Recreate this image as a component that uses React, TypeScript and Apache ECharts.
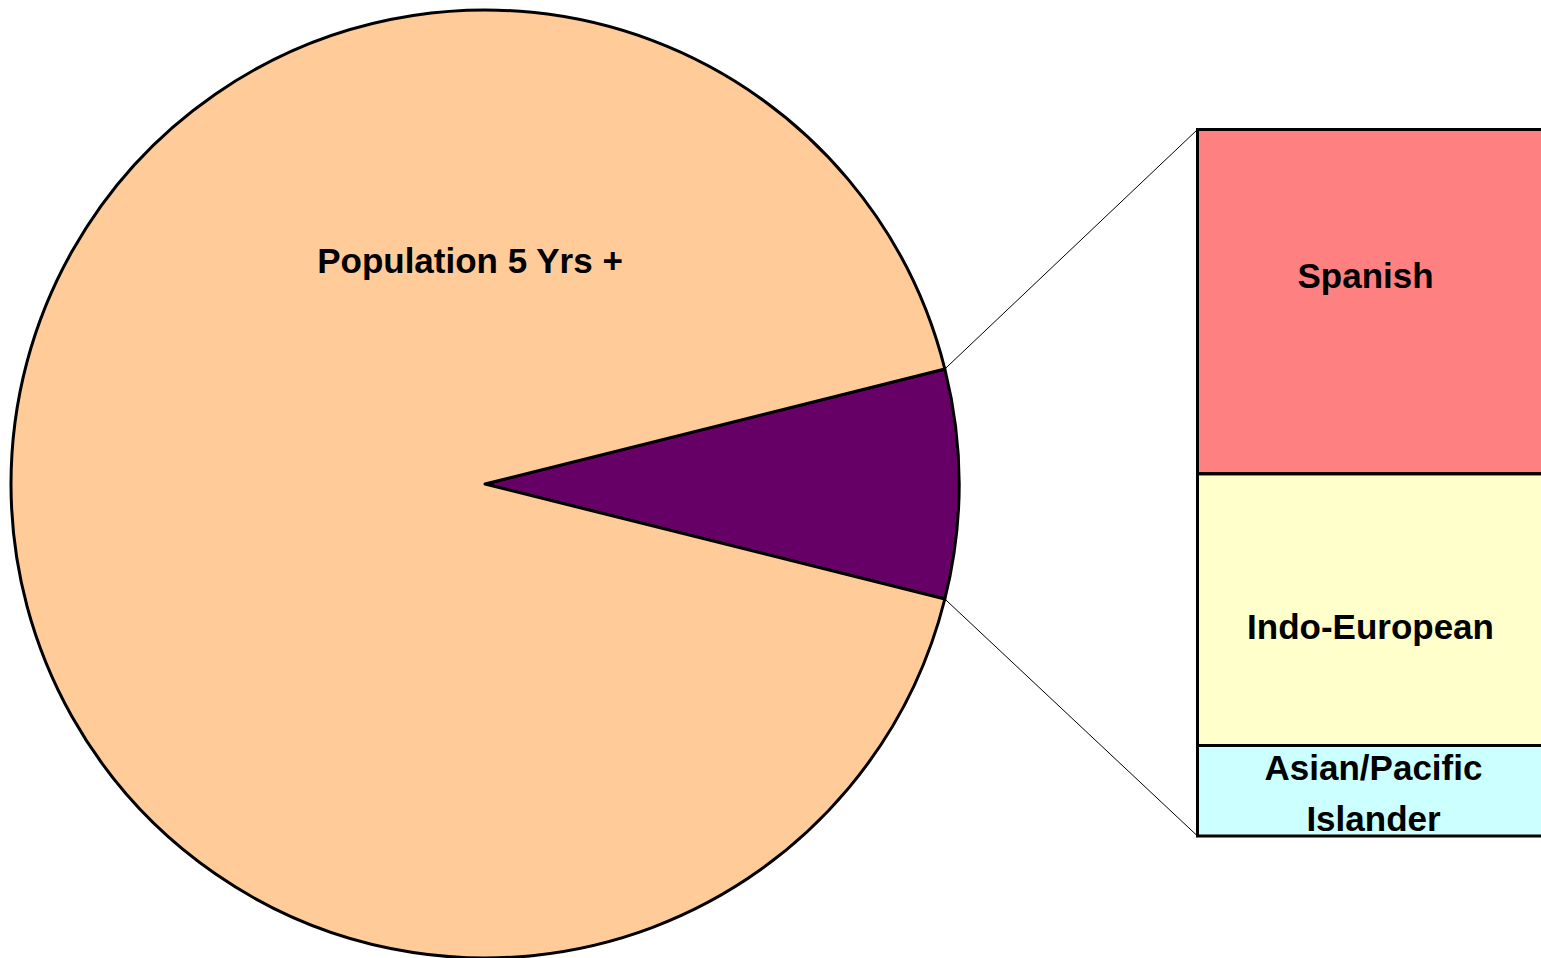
import React, { useEffect, useRef } from "react";
import * as echarts from "echarts";

// Pie: share of population 5 years and over (percent)
const pieCategories = ["Other Languages", "Population 5 Yrs +"];
const pieValues = [7.8, 92.2];
const pieColors = ["#660066", "#FFCC99"];

// Bar (breakdown of "Other Languages"), bottom to top
const barCategories = ["Asian/Pacific Islander", "Indo-European", "Spanish"];
const barValues = [1.0, 3.0, 3.8];
const barColors = ["#CCFFFF", "#FFFFCC", "#FF8080"];
const barLabelOffsets = [[1, 2], [-2, 17], [-7, -26]];

const FONT = "'Liberation Sans', Arial, sans-serif";

export default function App() {
  const ref = useRef<HTMLDivElement>(null);

  useEffect(() => {
    document.body.style.margin = "0";
    const chart = echarts.init(ref.current!, null, { renderer: "svg" });
    const cx = 485, cy = 484, r = 474;
    const total = pieValues.reduce((a, b) => a + b, 0);
    const half = (pieValues[0] / total) * 180;
    const barLeft = 1197.5, barTop = 129.5, barH = 706.5, barW = 350;
    const barTotal = barValues.reduce((a, b) => a + b, 0);

    const rad = (half * Math.PI) / 180;
    const pTop = [cx + r * Math.cos(rad), cy - r * Math.sin(rad)];
    const pBot = [cx + r * Math.cos(rad), cy + r * Math.sin(rad)];

    // cumulative segments for the outlines
    const segments: number[][] = [];
    let acc = 0;
    barValues.forEach((v) => {
      segments.push([0, acc, acc + v]);
      acc += v;
    });

    chart.setOption({
      animation: false,
      tooltip: { show: false },
      grid: {
        left: barLeft,
        top: barTop,
        width: barW,
        height: barH,
        containLabel: false,
        outerBoundsMode: "none",
      },
      xAxis: { type: "category", data: ["Other"], show: false },
      yAxis: { type: "value", min: 0, max: barTotal, show: false },
      series: [
        {
          type: "pie",
          silent: true,
          center: [cx, cy],
          radius: [0, r],
          startAngle: half,
          clockwise: true,
          data: pieCategories.map((name, i) => ({
            name,
            value: pieValues[i],
            itemStyle: { color: pieColors[i] },
            label: { show: i === 1 },
          })),
          itemStyle: { borderColor: "#000", borderWidth: 3 },
          label: {
            position: "inside",
            formatter: "{b}",
            fontFamily: FONT,
            fontSize: 35,
            fontWeight: "bold",
            color: "#000",
          },
          labelLine: { show: false },
          labelLayout: (p: any) =>
            p.dataIndex === 1 ? { x: 470, y: 260, align: "center", verticalAlign: "middle" } : {},
        },
        ...barCategories.map((name, i) => ({
          type: "bar",
          name,
          stack: "other",
          silent: true,
          barWidth: "100%",
          data: [barValues[i]],
          itemStyle: { color: barColors[i], borderWidth: 0 },
          label: {
            show: true,
            position: "inside",
            formatter: () => name.replace(" ", "\n"),
            offset: barLabelOffsets[i],
            fontFamily: FONT,
            fontSize: 35,
            fontWeight: "bold",
            color: "#000",
            lineHeight: 51,
          },
          z: 2,
        })),
        {
          type: "custom",
          silent: true,
          z: 3,
          data: segments,
          renderItem: (params: any, api: any) => {
            const p0 = api.coord([api.value(0), api.value(1)]);
            const p1 = api.coord([api.value(0), api.value(2)]);
            const w = api.size([1, 0])[0];
            return {
              type: "rect",
              shape: { x: p0[0] - w / 2, y: p1[1], width: w, height: p0[1] - p1[1] },
              style: { fill: "none", stroke: "#000", lineWidth: 3 },
            };
          },
        },
      ],
      graphic: [
        {
          type: "line",
          silent: true,
          shape: { x1: pTop[0], y1: pTop[1], x2: barLeft, y2: barTop },
          style: { stroke: "#000", lineWidth: 1 },
        },
        {
          type: "line",
          silent: true,
          shape: { x1: pBot[0], y1: pBot[1], x2: barLeft, y2: barTop + barH },
          style: { stroke: "#000", lineWidth: 1 },
        },
      ],
    });
    return () => chart.dispose();
  }, []);

  return <div ref={ref} style={{ width: 1541, height: 958, background: "#fff" }} />;
}
